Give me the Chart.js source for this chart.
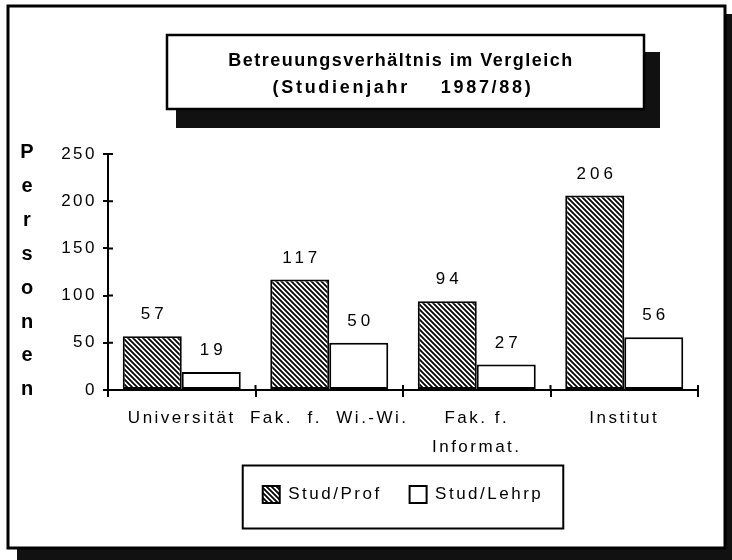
<!DOCTYPE html>
<html>
<head>
<meta charset="utf-8">
<title>Betreuungsverhältnis im Vergleich</title>
<script src="https://cdn.jsdelivr.net/npm/chart.js@4.4.0/dist/chart.umd.min.js"></script>
<style>
  html, body { margin: 0; padding: 0; background: #fff; }
  canvas { display: block; }
</style>
</head>
<body>
<canvas id="chart" width="732" height="560"></canvas>
<script>
// Daten (Studienjahr 1987/88)
const categories = ['Universität', 'Fak.  f.  Wi.-Wi.', ['Fak. f.', 'Informat.'], 'Institut'];
const studProf = [57, 117, 94, 206];
const studLehrp = [19, 50, 27, 56];
const seriesLabels = ['Stud/Prof', 'Stud/Lehrp'];
const yMax = 250;
const yStep = 50;
const titleLines = ['Betreuungsverhältnis im Vergleich', '(Studienjahr    1987/88)'];
const yTitle = 'Personen';

const FONT = "'Liberation Sans', Arial, Helvetica, sans-serif";

// Schraffur fuer Stud/Prof
function makeHatch() {
    const c = document.createElement('canvas');
    c.width = 5; c.height = 5;
    const g = c.getContext('2d');
    g.fillStyle = '#fff';
    g.fillRect(0, 0, 5, 5);
    g.strokeStyle = '#000';
    g.lineWidth = 1.8;
    g.beginPath();
    g.moveTo(-1, -1); g.lineTo(6, 6);
    g.moveTo(-1, 4); g.lineTo(1, 6);
    g.moveTo(4, -1); g.lineTo(6, 1);
    g.stroke();
    return g.createPattern(c, 'repeat');
}
const hatch = makeHatch();

// Rahmen, Titel, Achsentitel, Werte ueber den Balken
const decorations = {
    id: 'decorations',
    beforeUpdate(chart) { chart.ctx.letterSpacing = '2.5px'; },
    beforeLayout(chart) { chart.ctx.letterSpacing = '2.5px'; },
    beforeDraw(chart) {
        const ctx = chart.ctx;
        ctx.letterSpacing = '2.5px';
        ctx.save();
        ctx.fillStyle = '#fff';
        ctx.fillRect(0, 0, chart.width, chart.height);

        // aeusserer Rahmen mit Schatten
        ctx.fillStyle = '#111';
        ctx.fillRect(17, 14, 730, 560);
        ctx.fillStyle = '#fff';
        ctx.fillRect(8, 6, 717, 542);
        ctx.strokeStyle = '#000';
        ctx.lineWidth = 3;
        ctx.strokeRect(8, 6, 717, 542);

        // Titelkasten
        ctx.fillStyle = '#111';
        ctx.fillRect(176, 52, 484, 76);
        ctx.fillStyle = '#fff';
        ctx.fillRect(167, 35, 477, 74);
        ctx.lineWidth = 2.5;
        ctx.strokeRect(167, 35, 477, 74);

        ctx.fillStyle = '#000';
        ctx.textAlign = 'center';
        ctx.textBaseline = 'alphabetic';
        ctx.font = 'bold 18px ' + FONT;
        ctx.letterSpacing = '1.5px';
        ctx.fillText(titleLines[0], 401, 66);
        ctx.letterSpacing = '2.7px';
        ctx.fillText(titleLines[1], 403, 93);

        // Legendenrahmen
        const hb = chart.legend.legendHitBoxes;
        if (hb && hb.length) {
            const first = hb[0], last = hb[hb.length - 1];
            const cy = first.top + first.height / 2;
            const x0 = first.left - 20;
            const x1 = last.left + last.width + 20;
            ctx.lineWidth = 2;
            ctx.strokeRect(x0, cy - 29, x1 - x0, 63);
        }

        // Achsentitel senkrecht gestapelt
        ctx.font = 'bold 20px ' + FONT;
        ctx.letterSpacing = '0px';
        yTitle.split('').forEach((ch, i) => {
            ctx.fillText(ch, 27, 158 + i * 33.9);
        });
        ctx.restore();
    },
    afterDatasetsDraw(chart) {
        const ctx = chart.ctx;
        ctx.save();
        ctx.fillStyle = '#000';
        ctx.font = '17px ' + FONT;
        ctx.letterSpacing = '4px';
        ctx.textAlign = 'center';
        ctx.textBaseline = 'alphabetic';
        chart.data.datasets.forEach((ds, di) => {
            chart.getDatasetMeta(di).data.forEach((bar, i) => {
                ctx.fillText(String(ds.data[i]), bar.x + 2, bar.y - 17);
            });
        });
        ctx.restore();
    },
    afterDraw(chart) {
        // Teilstriche, die die Achsen kreuzen
        const ctx = chart.ctx;
        const x = chart.scales.x, y = chart.scales.y;
        const area = chart.chartArea;
        ctx.save();
        ctx.strokeStyle = '#000';
        ctx.lineWidth = 2;
        ctx.beginPath();
        y.ticks.forEach(t => {
            const py = y.getPixelForValue(t.value);
            ctx.moveTo(area.left, py);
            ctx.lineTo(area.left + 5, py);
        });
        for (let i = 1; i <= categories.length; i++) {
            const px = x.getPixelForValue(i - 0.5);
            ctx.moveTo(px, area.bottom);
            ctx.lineTo(px, area.bottom - 5);
        }
        ctx.stroke();
        ctx.restore();
    }
};

const ctx = document.getElementById('chart').getContext('2d');
const chart = new Chart(ctx, {
    type: 'bar',
    data: {
        labels: categories,
        datasets: [
            {
                label: seriesLabels[0],
                data: studProf,
                backgroundColor: hatch,
                borderColor: '#000',
                borderWidth: 2,
                borderSkipped: false
            },
            {
                label: seriesLabels[1],
                data: studLehrp,
                backgroundColor: '#fff',
                borderColor: '#000',
                borderWidth: 2,
                borderSkipped: false
            }
        ]
    },
    options: {
        responsive: false,
        animation: false,
        devicePixelRatio: 1,
        layout: { padding: { left: 10, right: 34, top: 154, bottom: 47 } },
        datasets: { bar: { categoryPercentage: 0.8, barPercentage: 1.0 } },
        scales: {
            x: {
                offset: true,
                grid: { display: true, drawOnChartArea: false, offset: true, tickLength: 7, color: '#000', lineWidth: 2 },
                border: { display: true, color: '#000', width: 2 },
                ticks: {
                    color: '#000',
                    font: { family: FONT, size: 17, lineHeight: 1.75 },
                    padding: 6,
                    maxRotation: 0,
                    autoSkip: false
                },
                afterFit: s => { s.height = 68; }
            },
            y: {
                min: 0,
                max: yMax,
                grid: { display: true, drawOnChartArea: false, tickLength: 5, color: '#000', lineWidth: 2 },
                border: { display: true, color: '#000', width: 2 },
                ticks: {
                    stepSize: yStep,
                    color: '#000',
                    font: { family: FONT, size: 17 },
                    padding: 6
                },
                afterFit: s => { s.width = 98; }
            }
        },
        plugins: {
            legend: {
                position: 'bottom',
                fullSize: false,
                labels: {
                    boxWidth: 17,
                    boxHeight: 17,
                    padding: 28,
                    color: '#000',
                    font: { family: FONT, size: 17 }
                }
            },
            tooltip: { enabled: false }
        }
    },
    plugins: [decorations]
});
</script>
</body>
</html>
